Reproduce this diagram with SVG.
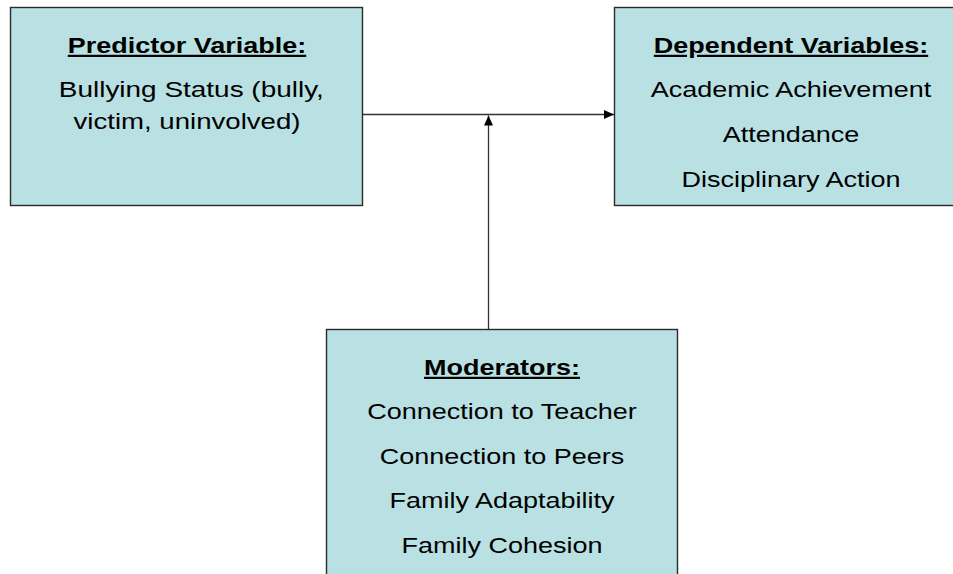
<svg xmlns="http://www.w3.org/2000/svg" width="953" height="574" viewBox="0 0 953 574">
<style>
.box{fill:#B9E0E3;stroke:#2a2a2a;stroke-width:1.4}
.t{font-family:"Liberation Sans",Arial,sans-serif;font-size:22px;fill:#000;text-anchor:middle}
.h{font-weight:bold;text-decoration:underline}
.conn{stroke:#333;stroke-width:1.3;fill:none}
</style>
<defs>
<marker id="arr" markerUnits="userSpaceOnUse" markerWidth="12" markerHeight="10" refX="10" refY="4.5" orient="auto">
<path d="M0,0 L10,4.5 L0,9 Z" fill="#000"/>
</marker>
</defs>
<rect width="953" height="574" fill="#fff"/>
<g id="connectors">
<line class="conn" x1="362.5" y1="114.5" x2="614" y2="114.5" marker-end="url(#arr)"/>
<line class="conn" x1="488.5" y1="329" x2="488.5" y2="115.5" marker-end="url(#arr)"/>
</g>
<g id="predictor">
<rect class="box" x="10.5" y="7.5" width="352" height="198"/>
<g transform="translate(187 0) scale(1.227 1)">
<text class="t h" x="0" y="53">Predictor Variable:</text>
<text class="t" x="3.5" y="97" textLength="216" lengthAdjust="spacingAndGlyphs">Bullying Status (bully,</text>
<text class="t" x="0" y="129" textLength="185" lengthAdjust="spacingAndGlyphs">victim, uninvolved)</text>
</g>
</g>
<g id="dependent">
<rect class="box" x="614.5" y="7.5" width="352" height="198"/>
<g transform="translate(791 0) scale(1.227 1)">
<text class="t h" x="0" y="53">Dependent Variables:</text>
<text class="t" x="0" y="97">Academic Achievement</text>
<text class="t" x="0" y="142">Attendance</text>
<text class="t" x="0" y="187">Disciplinary Action</text>
</g>
</g>
<g id="moderators">
<rect class="box" x="326.5" y="329.5" width="351" height="260"/>
<g transform="translate(502 0) scale(1.227 1)">
<text class="t h" x="0" y="375">Moderators:</text>
<text class="t" x="0" y="419">Connection to Teacher</text>
<text class="t" x="0" y="464">Connection to Peers</text>
<text class="t" x="0" y="508">Family Adaptability</text>
<text class="t" x="0" y="553">Family Cohesion</text>
</g>
</g>
</svg>
